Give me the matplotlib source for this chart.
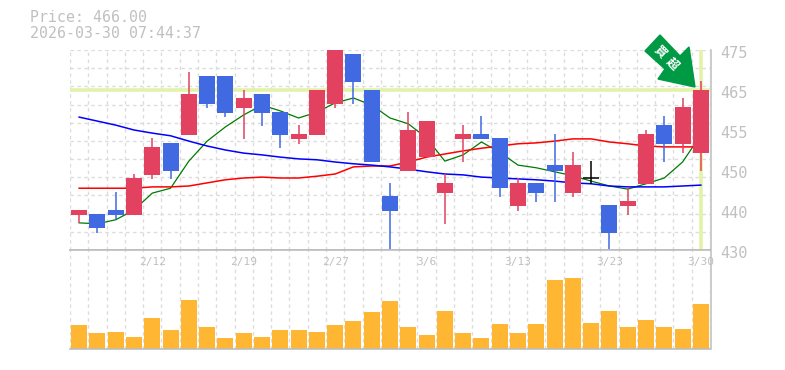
import matplotlib
matplotlib.use('Agg')
import matplotlib.pyplot as plt
from matplotlib.patches import Polygon

# ohlc, price axis runs 430 to 475
opens = [437.9, 438.1, 439.0, 437.9, 446.9, 454.1, 455.9, 469.2, 469.2, 462.0,
         465.1, 461.0, 455.0, 455.9, 462.9, 474.1, 466.0, 442.2, 447.8, 450.9,
         442.8, 455.0, 456.1, 455.2, 439.9, 445.1, 449.1, 442.8, 446.2, 440.1,
         439.9, 444.9, 458.1, 453.9, 451.8]
highs = [439.0, 438.1, 443.0, 447.1, 455.2, 454.1, 470.0, 469.2, 469.2, 466.0,
         465.1, 461.0, 458.1, 466.0, 475.0, 474.1, 466.0, 445.1, 461.0, 459.0,
         447.1, 458.1, 460.1, 455.2, 446.2, 445.1, 456.1, 452.0, 450.0, 440.1,
         444.2, 457.0, 460.1, 464.2, 468.0]
lows = [436.1, 433.9, 437.0, 437.9, 446.0, 446.0, 455.9, 462.0, 459.9, 455.0,
        457.9, 453.0, 453.9, 455.9, 462.0, 462.9, 449.8, 430.0, 447.8, 450.9,
        435.9, 449.8, 455.0, 441.9, 438.8, 440.8, 440.8, 441.9, 444.9, 430.0,
        437.9, 444.9, 449.8, 451.8, 447.8]
closes = [439.0, 435.0, 437.9, 446.2, 453.2, 447.8, 465.1, 462.9, 460.8, 464.2,
          460.8, 455.9, 456.1, 466.0, 475.0, 467.8, 449.8, 438.8, 457.0, 459.0,
          445.1, 456.1, 455.0, 444.0, 445.1, 442.8, 447.8, 449.1, 446.2, 433.8,
          441.0, 456.1, 453.9, 462.2, 466.0]
volumes = [24, 16, 17, 12, 31, 19, 49, 22, 11, 16, 12, 19, 19, 17, 24, 28, 37, 48,
           22, 14, 38, 16, 11, 25, 16, 25, 69, 71, 26, 38, 22, 29, 22, 20, 45]

ma_short = [436.1, 435.9, 436.8, 439.0, 442.8, 443.9, 450.0, 454.5, 457.7, 460.4,
            462.6, 461.3, 459.7, 461.0, 463.1, 464.2, 462.6, 459.7, 458.4, 455.2,
            450.0, 451.4, 454.3, 452.0, 449.1, 448.5, 447.6, 446.7, 445.5, 444.4,
            443.7, 444.9, 446.2, 449.8, 455.9]
ma_mid = [443.9, 443.9, 443.9, 443.9, 444.2, 444.2, 444.4, 445.1, 445.8, 446.2,
          446.4, 446.2, 446.2, 446.6, 447.1, 448.7, 448.9, 448.9, 449.8, 450.9,
          451.6, 452.3, 452.9, 453.4, 453.9, 454.1, 454.5, 455.0, 455.0, 454.3,
          453.9, 453.4, 453.2, 453.2, 453.2]
ma_long = [459.9, 459.0, 458.1, 457.0, 456.3, 455.7, 454.5, 453.4, 452.5, 451.8,
           451.4, 450.9, 450.5, 450.3, 449.8, 449.4, 449.1, 448.7, 448.2, 447.6,
           447.1, 446.9, 446.4, 446.2, 446.0, 445.8, 445.5, 445.1, 444.9, 444.4,
           444.2, 444.2, 444.2, 444.4, 444.6]

date_pos = [4, 9, 14, 19, 24, 29, 34]
date_labels = ['2/12', '2/19', '2/27', '3/6', '3/13', '3/23', '3/30']
price_ticks = [475, 466, 457, 448, 439, 430]
price_labels = ['475', '465', '455', '450', '440', '430']

UP = '#e2425f'
DOWN = '#4169e1'
GRID = '#dcdcdc'
FRAME = '#bdbdbd'
MARK = '#e2f3a9'
TEXT = '#c0c0c0'
MONO = 'DejaVu Sans Mono'

W, H = 785, 370
fig = plt.figure(figsize=(W / 100, H / 100), dpi=100)
ax = fig.add_axes([70 / W, 1 - 250 / H, 640 / W, 200 / H])
vol = fig.add_axes([70 / W, 1 - 349 / H, 640 / W, 99 / H])

n = len(closes)
xs = list(range(n))

# grid cells are one candle wide, 11 rows on the price panel
for a in (ax, vol):
    a.set_xlim(-0.5, n - 0.5)
    for i in range(n + 1):
        a.axvline(i - 0.5, color=GRID, lw=1, ls=(0, (2.5, 2.5)), zorder=0)
    a.set_xticks([])
    a.set_yticks([])
    for s in a.spines.values():
        s.set_visible(False)

ax.set_ylim(430, 475)
for i in range(12):
    ax.axhline(430 + i * 45 / 11, color=GRID, lw=1, ls=(0, (2.5, 2.5)), zorder=0)

# highlight for the latest price and day
ax.axhline(466, color=MARK, lw=2.6, zorder=1)
ax.axvline(n - 1, color=MARK, lw=2.6, zorder=1)

ax.plot(xs, ma_short, color='#007a00', lw=0.9, zorder=2)
ax.plot(xs, ma_mid, color='#ff0000', lw=1.1, zorder=2)
ax.plot(xs, ma_long, color='#0000ff', lw=1.1, zorder=2)

for i in xs:
    o, h, l, c = opens[i], highs[i], lows[i], closes[i]
    if c > o:
        col = UP
    elif c < o:
        col = DOWN
    else:
        col = 'black'
    ax.vlines(i, l, h, color=col, lw=1.1, zorder=3)
    if c == o:
        ax.hlines(c, i - 0.45, i + 0.45, color=col, lw=1.1, zorder=4)
    else:
        ax.bar(i, abs(c - o), bottom=min(o, c), width=0.875, color=col, zorder=4)

vol.set_ylim(0, 99)
vol.bar(xs, volumes, width=0.875, color='#ffb733', zorder=3)

# frame lines
ax.axhline(430, color=FRAME, lw=1.2, zorder=5, clip_on=False)
vol.axhline(0, color=FRAME, lw=1.2, zorder=5, clip_on=False)
vol.axhline(99, color=FRAME, lw=1.2, zorder=5, clip_on=False)
fig.add_artist(plt.Line2D([710.5 / W, 710.5 / W], [1 - 349 / H, 1 - 50 / H], color=FRAME, lw=1.1))

for p, t in zip(price_ticks, price_labels):
    ax.annotate(t, xy=(1, p), xycoords=ax.get_yaxis_transform(), xytext=(7, -2.2),
                textcoords='offset points', fontsize=11, color=TEXT, family=MONO,
                va='center', ha='left', annotation_clip=False)

# dates sit just under the top of the volume panel
for i, t in zip(date_pos, date_labels):
    vol.text(i, 87, t, fontsize=8, color=TEXT, family=MONO, ha='center', va='center',
             zorder=6, clip_on=False)

fig.text(30 / W, 1 - 18 / H, 'Price: 466.00', fontsize=10.7, color=TEXT, family=MONO, va='center')
fig.text(30 / W, 1 - 33 / H, '2026-03-30 07:44:37', fontsize=10.7, color=TEXT, family=MONO, va='center')

# green arrow pointing at the last candle
arrow_px = [(660, 35), (680, 56), (689, 47), (695, 87), (658, 79), (665, 69), (645, 51)]
fig.add_artist(Polygon([(x / W, 1 - y / H) for x, y in arrow_px], closed=True,
                       transform=fig.transFigure, color='#009944', zorder=10))
# the two characters are set apart along the arrow
for ch, cx, cy in [('買', 660, 52), ('超', 672, 64)]:
    fig.text(cx / W, 1 - cy / H, ch, fontsize=8.5, color='white', rotation=-45,
             family=['Noto Sans CJK TC', 'DejaVu Sans'], fontweight='bold',
             ha='center', va='center', rotation_mode='anchor', zorder=11)

fig.savefig('out.png', dpi=100)
